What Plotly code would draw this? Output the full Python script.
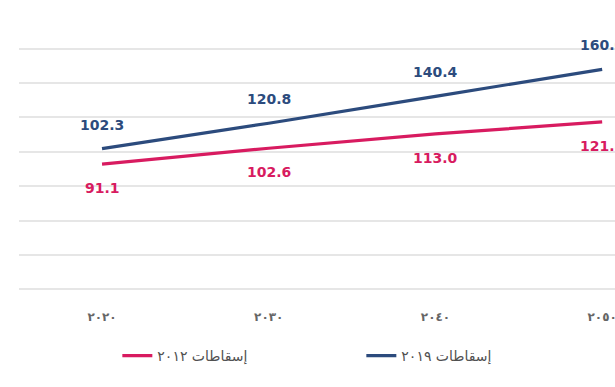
import plotly.graph_objects as go

years = [2020, 2030, 2040, 2050]
year_labels = ["٢٠٢٠", "٢٠٣٠", "٢٠٤٠", "٢٠٥٠"]
proj_2019 = [102.3, 120.8, 140.4, 160.0]
proj_2012 = [91.1, 102.6, 113.0, 121.8]
name_2019 = "إسقاطات ٢٠١٩"
name_2012 = "إسقاطات ٢٠١٢"
grid_vals = [0, 25, 50, 75, 100, 125, 150, 175]

blue = "#2c4b7d"
pink = "#d81b60"

fig = go.Figure()
fig.add_trace(go.Scatter(x=years, y=proj_2012, mode="lines", name=name_2012,
                         line=dict(color=pink, width=3.2)))
fig.add_trace(go.Scatter(x=years, y=proj_2019, mode="lines", name=name_2019,
                         line=dict(color=blue, width=3.2)))

for x, y in zip(years, proj_2019):
    fig.add_annotation(x=x, y=y, text=f"{y:.1f}", showarrow=False, yshift=24,
                       font=dict(family="DejaVu Sans", size=14, color=blue, weight="bold"))
for x, y in zip(years, proj_2012):
    fig.add_annotation(x=x, y=y, text=f"{y:.1f}", showarrow=False, yshift=-24,
                       font=dict(family="DejaVu Sans", size=14, color=pink, weight="bold"))

fig.update_layout(
    width=615, height=387,
    margin=dict(l=19, r=0, t=45.5, b=95, autoexpand=False),
    paper_bgcolor="white", plot_bgcolor="white",
    showlegend=True,
    legend=dict(orientation="h", x=0.165, xanchor="left", y=-0.26, yanchor="middle",
                font=dict(family="DejaVu Sans", size=14, color="#505050"),
                entrywidth=199, traceorder="normal"),
    xaxis=dict(range=[2015.02, 2050.77], tickvals=years, ticktext=year_labels,
               showgrid=False, zeroline=False, showline=False,
               ticks="outside", ticklen=14, tickcolor="rgba(0,0,0,0)",
               ticklabeloverflow="allow",
               tickfont=dict(family="DejaVu Sans", size=12, color="#666666", weight="bold")),
    yaxis=dict(range=[-2, 177], tickvals=grid_vals,
               showgrid=True, gridcolor="#e6e6e6", gridwidth=1.5,
               zeroline=False, showticklabels=False, showline=False, fixedrange=True),
)

fig.write_html("out.html", config={"displayModeBar": False},
               post_script="document.body.style.margin='0';document.body.style.overflow='hidden';")
